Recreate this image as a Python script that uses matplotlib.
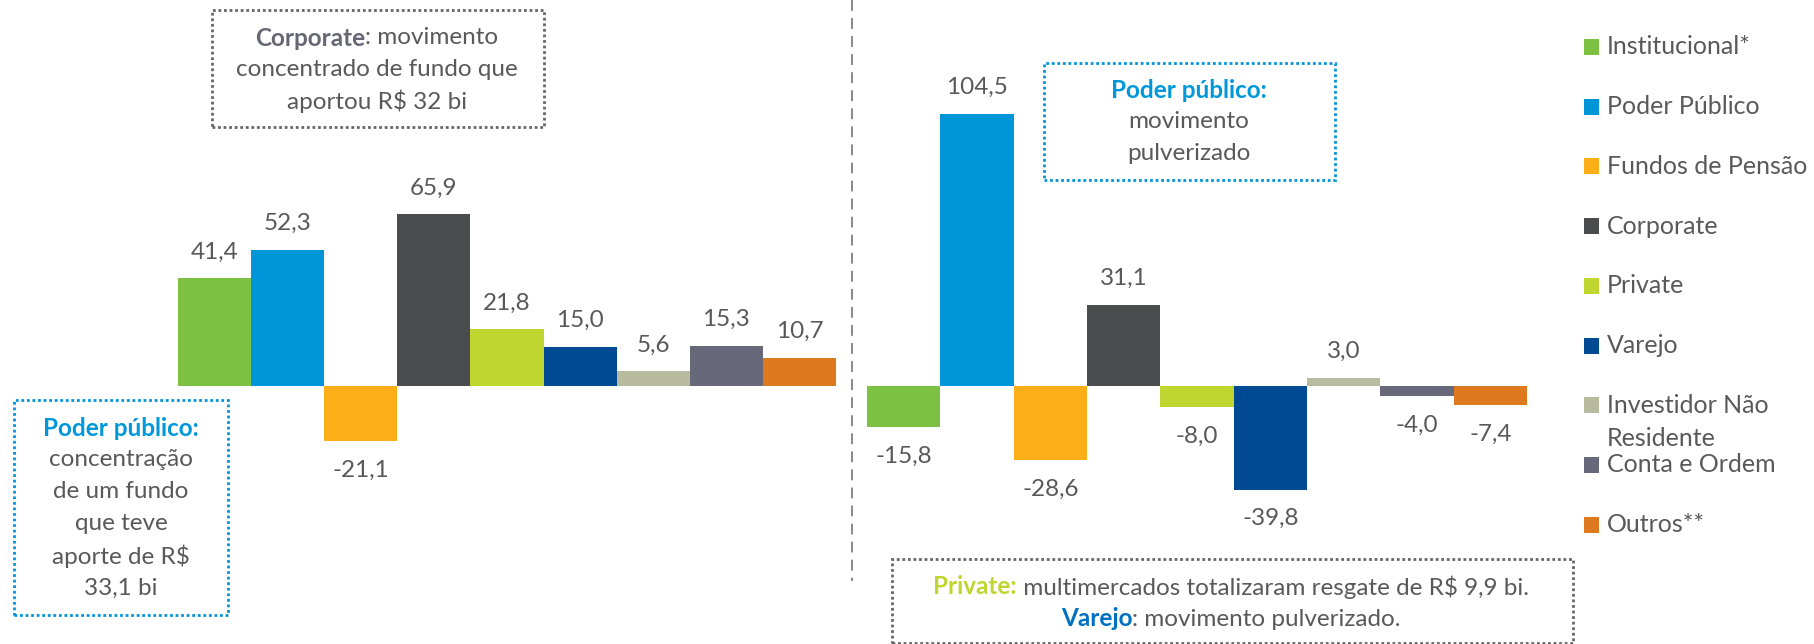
import matplotlib.pyplot as plt
from matplotlib.patches import Rectangle

# categories and values (R$ bi)
categories = ['Institucional*', 'Poder Público', 'Fundos de Pensão', 'Corporate',
              'Private', 'Varejo', 'Investidor Não\nResidente', 'Conta e Ordem', 'Outros**']
colors = ['#7DC142', '#0095D9', '#FBAE17', '#4B4C4E', '#BED62F',
          '#004A94', '#B8BBA0', '#676879', '#DF7920']
values_left = [41.4, 52.3, -21.1, 65.9, 21.8, 15.0, 5.6, 15.3, 10.7]
values_right = [-15.8, 104.5, -28.6, 31.1, -8.0, -39.8, 3.0, -4.0, -7.4]

W, H = 1815, 644
FONT = 'Lato'
GRAY = '#595959'
BLUE = '#0095D9'
NOTE_SIZE = 17.5

plt.rcParams['font.family'] = [FONT, 'DejaVu Sans']

fig = plt.figure(figsize=(W / 100, H / 100), dpi=100)


def px(x, y):
    # pixel coords (top-left origin) -> figure fraction
    return x / W, 1 - y / H


def add_bars(x0, x1, values):
    ax = fig.add_axes([x0 / W, 0, (x1 - x0) / W, 1])
    xs = range(len(values))
    bars = ax.bar(xs, values, width=1.0, color=colors)
    ax.set_xlim(-0.5, len(values) - 0.5)
    ax.set_ylim(-99.1, 148.3)
    ax.axis('off')
    for b, v in zip(bars, values):
        label = f'{v:.1f}'.replace('.', ',')
        off = 19 if v >= 0 else -21
        ax.annotate(label, (b.get_x() + b.get_width() / 2, v),
                    xytext=(0, off), textcoords='offset points',
                    ha='center', va='center', fontsize=17.5, color=GRAY)
    return ax


add_bars(178, 836, values_left)
add_bars(867, 1527, values_right)

# dashed divider
fig.add_artist(plt.Line2D([852.5 / W] * 2, [1, 1 - 581 / H], color='#7f7f7f',
                          lw=1.3, ls=(0, (6, 4))))

# legend drawn by hand (uniform spacing, second line of one label squeezed in)
for i, (name, c) in enumerate(zip(categories, colors)):
    yc = 47 + 59.7 * i
    fx, fy = px(1584, yc + 8)
    fig.add_artist(Rectangle((fx, fy), 15 / W, 16 / H, transform=fig.transFigure,
                             color=c, lw=0))
    lines = name.split('\n')
    for j, line in enumerate(lines):
        tx, ty = px(1607, yc + j * 33)
        fig.text(tx, ty, line, fontsize=18, color=GRAY, va='center', ha='left')


def box(x0, y0, x1, y1, color):
    fx, fy = px(x0, y1)
    fig.add_artist(Rectangle((fx, fy), (x1 - x0) / W, (y1 - y0) / H,
                             transform=fig.transFigure, fill=False,
                             edgecolor=color, lw=2, ls=(0, (1, 1))))


def rich_line(xc, y, pieces, size=NOTE_SIZE):
    # pieces: list of (text, color, weight); line centred on xc
    texts = []
    for s, c, w in pieces:
        texts.append(fig.text(0, 0, s, fontsize=size, color=c, weight=w,
                              va='center', ha='left'))
    r = fig.canvas.get_renderer()
    widths = [t.get_window_extent(r).width for t in texts]
    x = xc - sum(widths) / 2
    for t, wd in zip(texts, widths):
        t.set_position(px(x, y))
        x += wd


# Corporate note
box(212, 10, 544, 127, '#666666')
rich_line(377, 38, [('Corporate', '#656775', 'bold'), (': movimento', GRAY, 'normal')])
rich_line(377, 69, [('concentrado de fundo que', GRAY, 'normal')])
rich_line(377, 101, [('aportou R$ 32 bi', GRAY, 'normal')])

# Poder público note (left)
box(14, 400, 228, 615, BLUE)
rich_line(121, 428, [('Poder público:', '#0098DA', 'bold')])
for k, s in enumerate(['concentração', 'de um fundo', 'que teve', 'aporte de R$', '33,1 bi']):
    rich_line(121, 460 + 32 * k, [(s, GRAY, 'normal')])

# Poder público note (right)
box(1044, 63, 1335, 180, BLUE)
rich_line(1189, 90, [('Poder público:', '#0098DA', 'bold')])
rich_line(1189, 122, [('movimento', GRAY, 'normal')])
rich_line(1189, 154, [('pulverizado', GRAY, 'normal')])

# Private / Varejo note
box(892, 559, 1573, 643, '#666666')
rich_line(1231, 587, [('Private:', '#BED62F', 'bold'),
                      (' multimercados totalizaram resgate de R$ 9,9 bi.', GRAY, 'normal')])
rich_line(1231, 619, [('Varejo', '#0070C0', 'bold'), (': movimento pulverizado.', GRAY, 'normal')])

fig.savefig('out.png', dpi=100)
